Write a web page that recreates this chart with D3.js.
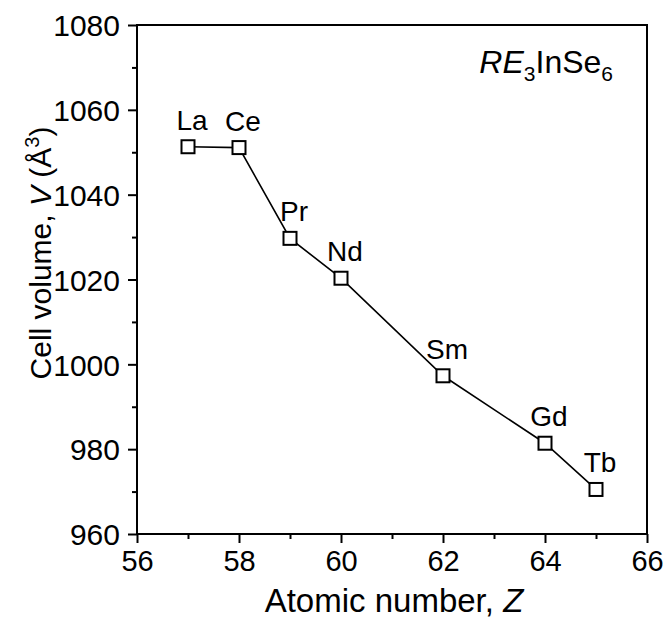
<!DOCTYPE html>
<html>
<head>
<meta charset="utf-8">
<script src="https://cdn.jsdelivr.net/npm/d3@7"></script>
<style>
html,body{margin:0;padding:0;background:#fff;}
text{font-family:"Liberation Sans",Arial,sans-serif;fill:#000;}
</style>
</head>
<body>
<svg id="chart" width="665" height="619"></svg>
<script>
const elements = ["La","Ce","Pr","Nd","Sm","Gd","Tb"];
const atomicNumber = [57,58,59,60,62,64,65];
const cellVolume = [1051.3,1051.1,1029.7,1020.3,997.3,981.4,970.5];
const xTicks = [56,58,60,62,64,66];
const yTicks = [960,980,1000,1020,1040,1060,1080];
const xMinorTicks = [57,59,61,63,65];
const yMinorTicks = [970,990,1010,1030,1050,1070];

const svg = d3.select("#chart");
const L = 137, R = 647, T = 25, B = 534;
const x = d3.scaleLinear().domain([56,66]).range([L,R]);
const y = d3.scaleLinear().domain([960,1080]).range([B,T]);

// frame
svg.append("rect").attr("x",L).attr("y",T).attr("width",R-L).attr("height",B-T)
  .attr("fill","none").attr("stroke","#000").attr("stroke-width",2);

// axes
const xAxis = svg.append("g").attr("transform",`translate(0,${B})`)
  .call(d3.axisBottom(x).tickValues(xTicks).tickFormat(d3.format("d")).tickSize(9).tickPadding(7));
const xMinor = svg.append("g").attr("transform",`translate(0,${B})`)
  .call(d3.axisBottom(x).tickValues(xMinorTicks).tickFormat("").tickSize(5));
const yAxis = svg.append("g").attr("transform",`translate(${L},0)`)
  .call(d3.axisLeft(y).tickValues(yTicks).tickFormat(d3.format("d")).tickSize(9).tickPadding(8));
const yMinor = svg.append("g").attr("transform",`translate(${L},0)`)
  .call(d3.axisLeft(y).tickValues(yMinorTicks).tickFormat("").tickSize(5));
[xAxis,xMinor,yAxis,yMinor].forEach(g=>{
  g.select(".domain").remove();
  g.selectAll("line").attr("stroke","#000").attr("stroke-width",2);
  g.selectAll("text").style("font-family","'Liberation Sans',Arial,sans-serif").attr("fill","#000");
});
xAxis.selectAll("text").style("font-size","29px").attr("dy","0.72em");
yAxis.selectAll("text").style("font-size","30px").attr("dy","0.36em");

// axis titles
const xt = svg.append("text").attr("x",394).attr("y",612).attr("text-anchor","middle").style("font-size","33px");
xt.append("tspan").text("Atomic number, ");
xt.append("tspan").style("font-style","italic").text("Z");

const yt = svg.append("text").attr("transform",`translate(51,253) rotate(-90)`).attr("text-anchor","middle").style("font-size","30px");
yt.append("tspan").text("Cell volume, ");
yt.append("tspan").style("font-style","italic").text("V");
yt.append("tspan").text(" (Å");
yt.append("tspan").attr("dy","-12").style("font-size","20px").text("3");
yt.append("tspan").attr("dy","12").text(")");

// compound label
const ct = svg.append("text").attr("x",613).attr("y",73).attr("text-anchor","end").style("font-size","32px");
ct.append("tspan").style("font-style","italic").text("RE");
ct.append("tspan").attr("dy","8").style("font-size","21px").text("3");
ct.append("tspan").attr("dy","-8").text("InSe");
ct.append("tspan").attr("dy","8").style("font-size","21px").text("6");

// data
const data = elements.map((e,i)=>({el:e, z:atomicNumber[i], v:cellVolume[i]}));
svg.append("path").datum(data)
  .attr("d", d3.line().x(d=>x(d.z)).y(d=>y(d.v)))
  .attr("fill","none").attr("stroke","#000").attr("stroke-width",1.6);
const s = 13;
svg.selectAll("rect.pt").data(data).enter().append("rect").attr("class","pt")
  .attr("x",d=>x(d.z)-s/2).attr("y",d=>y(d.v)-s/2).attr("width",s).attr("height",s)
  .attr("fill","#fff").attr("stroke","#000").attr("stroke-width",2);
svg.selectAll("text.lbl").data(data).enter().append("text").attr("class","lbl")
  .attr("x",d=>x(d.z)+4).attr("y",d=>y(d.v)-17).attr("text-anchor","middle")
  .style("font-size","28px").text(d=>d.el);
</script>
</body>
</html>
